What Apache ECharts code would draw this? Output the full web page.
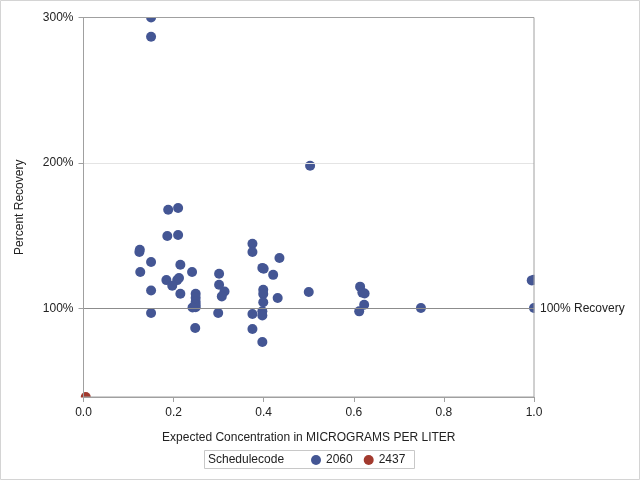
<!DOCTYPE html>
<html>
<head>
<meta charset="utf-8">
<script src="https://cdn.jsdelivr.net/npm/echarts@6/dist/echarts.min.js"></script>
<style>html,body{margin:0;padding:0;background:#fff}#c{width:640px;height:480px}</style>
</head>
<body>
<div id="c"></div>
<script>
// Schedulecode 2060
var x2060 = [0.150,0.150,0.503,0.188,0.210,0.186,0.210,0.125,0.124,0.150,0.215,0.126,0.241,0.184,0.208,0.212,0.197,0.150,0.215,
  0.249,0.249,0.249,0.249,0.249,0.242,0.150,0.248,0.301,0.301,0.313,0.307,0.299,
  0.375,0.375,0.435,0.397,0.400,0.421,0.399,0.399,0.431,0.399,0.500,0.375,0.397,0.397,0.375,0.397,
  0.614,0.619,0.624,0.623,0.612,0.749,0.995,1.000,1.000];
var y2060 = [300,286.7,198.0,167.8,169.0,149.7,150.4,140.3,138.7,131.9,130.0,125.0,125.0,119.4,119.4,120.8,115.5,112.3,110.0,
  110.0,107.3,104.5,102.5,100.8,100.6,96.8,86.5,123.8,116.2,111.6,108.2,96.8,
  144.4,138.7,134.6,127.8,127.2,123.0,112.8,109.9,107.1,104.2,111.2,96.1,97.9,95.1,85.8,76.8,
  114.9,110.8,110.2,102.5,97.9,100.2,119.2,119.6,100.2];
// Schedulecode 2437
var x2437 = [0.005];
var y2437 = [39];
var xTicks = [0, 0.2, 0.4, 0.6, 0.8, 1.0];
var yTicks = [100, 200, 300];
var refValue = 100;
var refLabel = '100% Recovery';

function pairs(xs, ys){ return xs.map(function(x,i){ return [x, ys[i]]; }); }

var FONT = 'Liberation Sans, Arial, sans-serif';
var W = 640, H = 480, GL = 83.5, GR = 106, GT = 17.5, GB = 83;
var chart = echarts.init(document.getElementById('c'), null, {renderer:'canvas'});
var mask = {fill: '#fff', stroke: 'none'};
chart.setOption({
  animation: false,
  backgroundColor: '#fff',
  textStyle: {fontFamily: FONT},
  grid: {left: GL, right: GR, top: GT, bottom: GB, show: true, borderColor: '#A0A0A0', borderWidth: 1, z: 10},
  xAxis: {
    type: 'value', min: 0, max: 1, interval: 0.2, z: 10,
    name: 'Expected Concentration in MICROGRAMS PER LITER',
    nameLocation: 'middle', nameGap: 35,
    nameTextStyle: {color: '#222', fontSize: 12, fontFamily: FONT},
    axisLine: {show: true, lineStyle: {color: '#A0A0A0'}},
    axisTick: {show: true, length: 5, lineStyle: {color: '#A0A0A0'}},
    axisLabel: {color: '#222', fontSize: 12, margin: 10, formatter: function(v){ return v.toFixed(1); }},
    splitLine: {show: false}
  },
  yAxis: {
    type: 'value', min: 39, max: 300, z: 10,
    name: 'Percent Recovery', nameLocation: 'middle', nameGap: 58,
    nameTextStyle: {color: '#222', fontSize: 12, fontFamily: FONT},
    axisLine: {show: true, lineStyle: {color: '#A0A0A0'}},
    axisTick: {show: true, length: 5, customValues: yTicks, lineStyle: {color: '#A0A0A0'}},
    axisLabel: {color: '#222', fontSize: 12, margin: 10, customValues: yTicks, formatter: function(v){ return v + '%'; }},
    splitLine: {show: false}
  },
  legend: {
    data: [{name:'2060'},{name:'2437'}], z: 12,
    left: 306, top: 449, icon: 'circle', itemWidth: 10, itemHeight: 10, itemGap: 11,
    textStyle: {color: '#222', fontSize: 12, fontFamily: FONT}
  },
  graphic: [
    // white masks just outside the plot area so marks are clipped at its edges
    {type: 'rect', shape: {x: 1, y: 1, width: W - 2, height: GT - 1.5}, style: mask, z: 5, silent: true},
    {type: 'rect', shape: {x: W - GR + 0.5, y: 1, width: 5, height: H - 2 - 60}, style: mask, z: 5, silent: true},
    {type: 'rect', shape: {x: 1, y: H - GB + 0.5, width: W - 2 - 100, height: 8}, style: mask, z: 5, silent: true},
    {type: 'rect', shape: {x: 60, y: 1, width: GL - 60 - 0.5, height: H - 90}, style: mask, z: 5, silent: true},
    {type: 'rect', shape: {x: 0.5, y: 0.5, width: 639, height: 479}, style: {fill: 'none', stroke: '#D4D4D4', lineWidth: 1}, z: 20},
    {type: 'rect', shape: {x: 204.5, y: 450.5, width: 210, height: 18}, style: {fill: 'none', stroke: '#C8C8C8', lineWidth: 1}, z: 12},
    {type: 'text', left: 208, top: 454, style: {text: 'Schedulecode', fill: '#222', font: '12px ' + FONT}, z: 12}
  ],
  series: [
    {
      type: 'scatter', name: 'ref', data: [], z: 1, silent: true,
      markLine: {
        silent: true, symbol: 'none', animation: false,
        data: [
          {yAxis: 200, lineStyle: {color: '#E4E4E4', width: 1, type: 'solid'}, label: {show: false}},
          {yAxis: refValue, lineStyle: {color: '#8C8C8C', width: 1, type: 'solid'}, label: {show: false}}
        ]
      }
    },
    {
      type: 'scatter', name: 'reflabel', data: [], z: 12, silent: true,
      markLine: {
        silent: true, symbol: 'none', animation: false,
        data: [
          {yAxis: refValue, lineStyle: {color: 'rgba(0,0,0,0)', width: 1},
           label: {show: true, position: 'end', formatter: refLabel, color: '#222', fontSize: 12, fontFamily: FONT, distance: 6}}
        ]
      }
    },
    {type: 'scatter', name: '2060', data: pairs(x2060, y2060), symbol: 'circle', symbolSize: 10, clip: true, z: 3,
     itemStyle: {color: '#445694', opacity: 1}},
    {type: 'scatter', name: '2437', data: pairs(x2437, y2437), symbol: 'circle', symbolSize: 10, clip: true, z: 3,
     itemStyle: {color: '#A23A2E', opacity: 1}}
  ]
});
</script>
</body>
</html>
